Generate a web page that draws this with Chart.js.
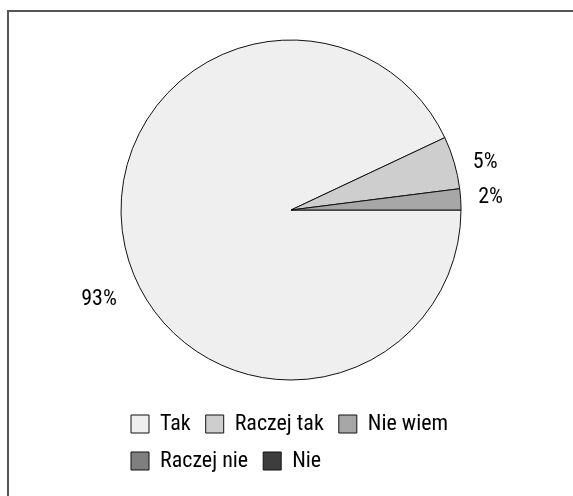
<!DOCTYPE html>
<html>
<head>
<meta charset="utf-8">
<script src="https://cdn.jsdelivr.net/npm/chart.js@4"></script>
<style>
  html, body { margin: 0; padding: 0; background: #ffffff; overflow: hidden; }
  #wrap { position: relative; width: 573px; height: 496px; }
  #frame { position: absolute; left: 7px; top: 10px; width: 700px; height: 700px;
           border-top: 2px solid #555555; border-left: 2px solid #555555; }
  #c { position: absolute; left: 0; top: 0; }
</style>
</head>
<body>
<div id="wrap">
  <div id="frame"></div>
  <canvas id="c" width="573" height="496"></canvas>
</div>
<script>
// ---- data ----
const categories = ['Tak', 'Raczej tak', 'Nie wiem', 'Raczej nie', 'Nie'];
const values = [93, 5, 2, 0, 0];
const valueLabels = ['93%', '5%', '2%', '', ''];
const sliceColors = ['#efefef', '#cecece', '#a7a7a7', '#7f7f7f', '#3d3d3d'];

const FONT = "'Liberation Sans Narrow', 'Roboto Condensed', 'DejaVu Sans Condensed', 'Roboto', sans-serif";

// outside labels drawn at each arc's mid angle
const outsideLabels = {
  id: 'outsideLabels',
  afterDatasetsDraw(chart, args, opts) {
    const ctx = chart.ctx;
    const meta = chart.getDatasetMeta(0);
    ctx.save();
    ctx.font = opts.fontWeight + ' ' + opts.fontSize + 'px ' + FONT;
    ctx.fillStyle = opts.color;
    ctx.textAlign = 'center';
    ctx.textBaseline = 'middle';
    meta.data.forEach((arc, i) => {
      const txt = valueLabels[i];
      if (!txt) return;
      const p = arc.getProps(['x', 'y', 'startAngle', 'endAngle', 'outerRadius'], true);
      const tweak = (opts.tweaks && opts.tweaks[i]) || {angle: 0, dist: 0};
      const a = (p.startAngle + p.endAngle) / 2 + tweak.angle * Math.PI / 180;
      const r = p.outerRadius + opts.distance + tweak.dist;
      ctx.fillText(txt, p.x + Math.cos(a) * r, p.y + Math.sin(a) * r);
    });
    ctx.restore();
  }
};

new Chart(document.getElementById('c'), {
  type: 'pie',
  data: {
    labels: categories,
    datasets: [{
      data: values,
      backgroundColor: sliceColors,
      borderColor: '#111111',
      borderWidth: 1,
      clip: false
    }]
  },
  options: {
    responsive: false,
    animation: false,
    rotation: 90,
    radius: 170,
    layout: { padding: { left: 116, right: 107, top: 22, bottom: 14 } },
    plugins: {
      tooltip: { enabled: false },
      legend: {
        position: 'bottom',
        align: 'start',
        labels: {
          boxWidth: 18,
          boxHeight: 18,
          padding: 15,
          color: '#000000',
          font: { family: FONT, size: 22, weight: '400' }
        }
      },
      outsideLabels: {
        fontSize: 22,
        fontWeight: '400',
        color: '#000000',
        distance: 30,
        tweaks: { 0: { angle: -12.5, dist: 12 }, 1: { angle: 2.4, dist: 0 } }
      }
    }
  },
  plugins: [outsideLabels]
});
</script>
</body>
</html>
